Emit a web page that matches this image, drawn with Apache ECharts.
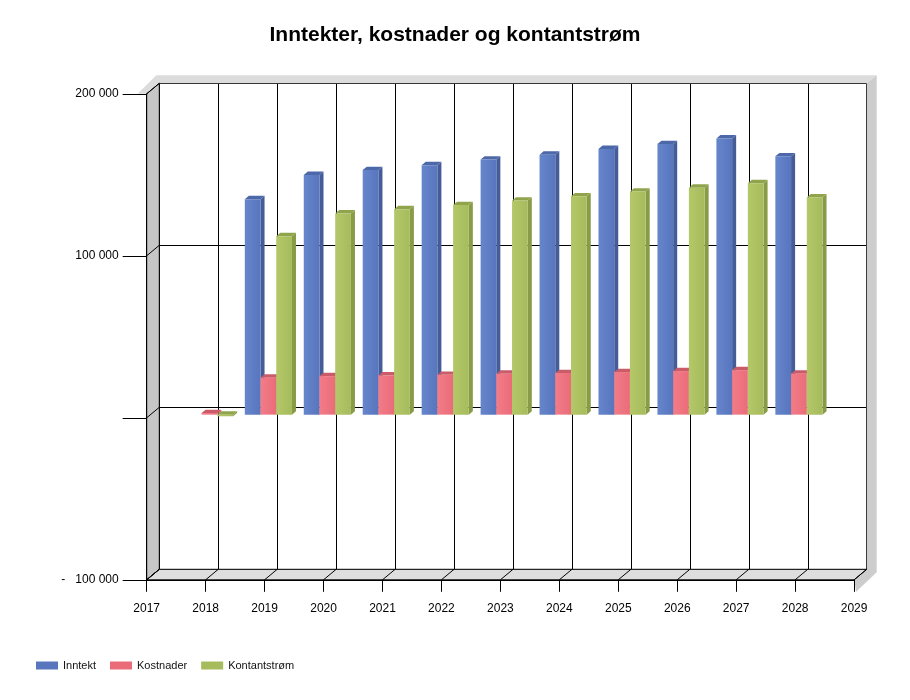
<!DOCTYPE html>
<html>
<head>
<meta charset="utf-8">
<script src="https://cdn.jsdelivr.net/npm/echarts@6/dist/echarts.min.js"></script>
<style>
  html, body { margin: 0; padding: 0; background: #fff; }
  #chart { width: 910px; height: 700px; }
</style>
</head>
<body>
<div id="chart"></div>
<script>
// chart data
const years = [2018, 2019, 2020, 2021, 2022, 2023, 2024, 2025, 2026, 2027, 2028];
const inntekt = [0, 133000, 148000, 151000, 154000, 157500, 160500, 164000, 167000, 170500, 159500];
const kostnader = [1000, 22800, 23800, 24200, 24600, 25300, 25700, 26300, 26900, 27500, 25300];
const kontantstrom = [-1000, 110200, 124200, 126800, 129400, 132200, 134800, 137700, 140100, 142900, 134200];
const seriesNames = ['Inntekt', 'Kostnader', 'Kontantstrøm'];
const yearMin = 2017, yearMax = 2029;
const yMin = -100000, yMax = 200000, yStep = 100000;

// layout of the 3D box
const BACK = { left: 159.3, top: 83.3, width: 707.4, height: 486 };
const DEPTH = [-12.6, 10.5];      // back wall -> front edge
const FACE = 0.7, REAR = 0.38;    // bar front face / back face, as share of depth
const GROUP = 0.8;                // share of a year taken by the three bars
const FONT = 'Liberation Sans, Arial, sans-serif';

const colors = [
  { front: ['#6686cc', '#5875bd'], top: '#4d68a8', side: '#445d98' },
  { front: ['#f27c88', '#ea6c79'], top: '#c95c68', side: '#c25561' },
  { front: ['#b4c86a', '#a6bb5c'], top: '#90a44c', side: '#889b46' }
];

function fmt(v) {
  if (v === 0) return '';
  const s = Math.abs(v).toString().replace(/\B(?=(\d{3})+(?!\d))/g, ' ');
  return v < 0 ? '-   ' + s : s;
}

function barRenderer(idx) {
  const c = colors[idx];
  return function (params, api) {
    const year = api.value(0), v = api.value(1);
    if (!v) return;
    const w = api.size([1, 0])[0] * GROUP / 3;
    const p0 = api.coord([year, 0]);
    const p1 = api.coord([year, v]);
    const x0 = p0[0] + DEPTH[0] * FACE + (idx - 1.5) * w;
    const yT = Math.min(p0[1], p1[1]) + DEPTH[1] * FACE;
    const yB = Math.max(p0[1], p1[1]) + DEPTH[1] * FACE;
    const dx = DEPTH[0] * (REAR - FACE), dy = DEPTH[1] * (REAR - FACE);
    return {
      type: 'group',
      children: [
        { type: 'polygon', shape: { points: [[x0 + w, yT], [x0 + w + dx, yT + dy], [x0 + w + dx, yB + dy], [x0 + w, yB]] },
          style: { fill: c.side } },
        { type: 'polygon', shape: { points: [[x0, yT], [x0 + w, yT], [x0 + w + dx, yT + dy], [x0 + dx, yT + dy]] },
          style: { fill: c.top } },
        { type: 'rect', shape: { x: x0, y: yT, width: w, height: yB - yT },
          style: { fill: new echarts.graphic.LinearGradient(0, 0, 1, 0, [
            { offset: 0, color: c.front[0] }, { offset: 1, color: c.front[1] }]) } }
      ]
    };
  };
}

function frameRenderer(params, api) {
  const tl = api.coord([yearMin, yMax]);
  const br = api.coord([yearMax, yMin]);
  const f = (p) => [p[0] + DEPTH[0], p[1] + DEPTH[1]];
  const ftl = f(tl), fbr = f(br), fbl = f([tl[0], br[1]]);
  const line = { stroke: '#000', lineWidth: 1 };
  const kids = [
    // wall shadow on top and right
    { type: 'polygon', shape: { points: [[ftl[0] - 9, ftl[1]], [tl[0] - 3, tl[1] - 8], [br[0] + 10, tl[1] - 8], [br[0], tl[1]], [tl[0], tl[1]], ftl] },
      style: { fill: '#dcdcdc' } },
    { type: 'polygon', shape: { points: [[br[0], tl[1]], [br[0] + 10, tl[1] - 8], [br[0] + 10, br[1] + 3], [fbr[0] + 2, fbr[1] + 12], fbr, br] },
      style: { fill: '#cdcdcd' } },
    // left wall and floor
    { type: 'polygon', shape: { points: [ftl, tl, [tl[0], br[1]], fbl] },
      style: { fill: '#c6c6c6', stroke: '#000', lineWidth: 1 } },
    { type: 'polygon', shape: { points: [fbl, [tl[0], br[1]], br, fbr] },
      style: { fill: '#dedede', stroke: '#000', lineWidth: 1 } }
  ];
  // depth lines at the value ticks
  for (let v = yMin; v <= yMax; v += yStep) {
    const b = api.coord([yearMin, v]);
    kids.push({ type: 'line', shape: { x1: b[0], y1: b[1], x2: b[0] + DEPTH[0], y2: b[1] + DEPTH[1] }, style: line });
  }
  // depth lines at the year ticks
  for (let y = yearMin; y <= yearMax; y++) {
    const b = api.coord([y, yMin]);
    kids.push({ type: 'line', shape: { x1: b[0], y1: b[1], x2: b[0] + DEPTH[0], y2: b[1] + DEPTH[1] }, style: line });
  }
  return { type: 'group', children: kids };
}

const chart = echarts.init(document.getElementById('chart'));

const seriesData = [inntekt, kostnader, kontantstrom];

const option = {
  animation: false,
  textStyle: { fontFamily: FONT },
  title: {
    text: 'Inntekter, kostnader og kontantstrøm',
    left: 'center', top: 20,
    textStyle: { fontSize: 21, fontWeight: 'bold', color: '#000', fontFamily: FONT }
  },
  legend: {
    data: seriesNames,
    left: 36, top: 660, padding: 0,
    icon: 'rect', itemWidth: 22, itemHeight: 8, itemGap: 14,
    textStyle: { fontSize: 11, color: '#111', fontFamily: FONT }
  },
  grid: [
    { left: BACK.left, top: BACK.top, width: BACK.width, height: BACK.height },
    { left: BACK.left + DEPTH[0], top: BACK.top + DEPTH[1], width: BACK.width, height: BACK.height }
  ],
  xAxis: [
    { type: 'value', gridIndex: 0, min: yearMin, max: yearMax, interval: 1,
      axisLine: { show: false }, axisTick: { show: false }, axisLabel: { show: false },
      splitLine: { show: true, lineStyle: { color: '#000', width: 1 } } },
    { type: 'value', gridIndex: 1, min: yearMin, max: yearMax, interval: 1, z: 5,
      axisLine: { show: true, onZero: false, lineStyle: { color: '#000', width: 1 } },
      axisTick: { show: true, length: 12, lineStyle: { color: '#000' } },
      axisLabel: { show: true, margin: 23, fontSize: 12, color: '#000', fontFamily: FONT, formatter: (v) => String(v) },
      splitLine: { show: false } }
  ],
  yAxis: [
    { type: 'value', gridIndex: 0, min: yMin, max: yMax, interval: yStep,
      axisLine: { show: false }, axisTick: { show: false }, axisLabel: { show: false },
      splitLine: { show: true, lineStyle: { color: '#000', width: 1 } } },
    { type: 'value', gridIndex: 1, min: yMin, max: yMax, interval: yStep, z: 5,
      axisLine: { show: true, onZero: false, lineStyle: { color: '#000', width: 1 } },
      axisTick: { show: true, length: 24, lineStyle: { color: '#000' } },
      axisLabel: { show: true, margin: 28, fontSize: 12, color: '#000', fontFamily: FONT, formatter: fmt },
      splitLine: { show: false } }
  ],
  series: [
    { type: 'custom', name: 'frame', xAxisIndex: 0, yAxisIndex: 0, z: 1, silent: true,
      data: [[yearMin, yMin]], renderItem: frameRenderer }
  ].concat(seriesNames.map((name, i) => ({
    type: 'custom', name: name, xAxisIndex: 0, yAxisIndex: 0, z: 3,
    itemStyle: { color: colors[i].front[1] },
    data: years.map((y, k) => [y, seriesData[i][k]]),
    encode: { x: 0, y: 1 },
    renderItem: barRenderer(i)
  })))
};

chart.setOption(option);
</script>
</body>
</html>
